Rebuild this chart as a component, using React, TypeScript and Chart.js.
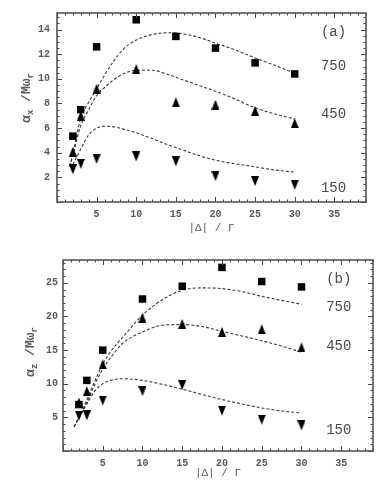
import React, { useEffect, useRef } from 'react';
import { Chart, registerables } from 'chart.js';

Chart.register(...registerables);

// ---------- data ----------
const detuning = [2, 3, 5, 10, 15, 20, 25, 30];

// panel (a): alpha_x / M omega_r
const aSquares750 = [5.35, 7.5, 12.6, 14.8, 13.45, 12.5, 11.3, 10.4];
const aTriUp450 = [4.1, 7.0, 9.2, 10.8, 8.1, 7.9, 7.4, 6.4];
const aTriDown150 = [2.65, 3.1, 3.5, 3.7, 3.3, 2.1, 1.7, 1.4];

const aCurveX = [1.6, 2, 3, 4, 5, 6, 7, 8.5, 10, 12, 14, 16, 18, 20, 22.5, 25, 27.5, 30];
const aCurve750 = [2.9, 3.9, 6.8, 8.1, 9.2, 10.3, 11.3, 12.5, 13.15, 13.6, 13.75, 13.65, 13.35, 12.9, 12.35, 11.7, 11.1, 10.45];
const aCurve450 = [2.9, 3.8, 6.2, 7.5, 8.65, 9.3, 9.85, 10.45, 10.7, 10.7, 10.35, 9.9, 9.45, 9.0, 8.35, 7.65, 7.15, 6.75];
const aCurve150X = [1.8, 2, 3, 4, 5, 6, 7, 8.5, 10, 12, 14, 16, 18, 20, 22.5, 25, 27.5, 30];
const aCurve150 = [2.65, 3.0, 4.3, 5.45, 6.0, 6.15, 6.12, 5.9, 5.62, 5.15, 4.65, 4.2, 3.75, 3.4, 3.1, 2.85, 2.6, 2.43];

// panel (b): alpha_z / M omega_r
const bSquares750 = [6.9, 10.5, 15.0, 22.6, 24.5, 27.3, 25.2, 24.4];
const bTriUp450 = [7.2, 8.9, 12.9, 19.8, 18.9, 17.7, 18.1, 15.4];
const bTriDown150 = [5.25, 5.3, 7.5, 8.9, 9.8, 6.0, 4.65, 3.8];

const bCurveX = [1.4, 2, 3, 4, 5, 6, 7.5, 10, 12.5, 15, 17.5, 20, 22.5, 25, 27.5, 30];
const bCurve750 = [3.6, 5.0, 7.6, 10.4, 12.9, 14.8, 16.9, 20.2, 22.5, 23.9, 24.25, 24.15, 23.7, 23.0, 22.4, 21.8];
const bCurve450 = [3.6, 5.0, 7.2, 9.9, 12.2, 13.9, 16.0, 17.7, 18.7, 18.8, 18.5, 17.8, 17.1, 16.4, 15.6, 14.7];
const bCurve150 = [3.6, 4.9, 7.0, 8.9, 10.0, 10.5, 10.75, 10.5, 9.9, 9.2, 8.4, 7.65, 7.0, 6.4, 5.95, 5.65];

const seriesLabels = ['750', '450', '150'];
const xTitle = '|Δ| / Γ';

// ---------- helpers ----------
const FONT = "'Liberation Mono', 'DejaVu Sans Mono', monospace";
const TEXT = '#4a4a4a';
const TICK = '#5a5a5a';

const pts = (xs: number[], ys: number[]) => xs.map((x, i) => ({ x, y: ys[i] }));

function makeTriangle(up: boolean): HTMLCanvasElement {
  const c = document.createElement('canvas');
  const w = 8;
  const h = 10;
  c.width = w;
  c.height = h;
  const ctx = c.getContext('2d')!;
  ctx.fillStyle = '#000';
  ctx.beginPath();
  if (up) {
    ctx.moveTo(w / 2, 0);
    ctx.lineTo(w, h);
    ctx.lineTo(0, h);
  } else {
    ctx.moveTo(0, 0);
    ctx.lineTo(w, 0);
    ctx.lineTo(w / 2, h);
  }
  ctx.closePath();
  ctx.fill();
  return c;
}

const framePlugin = {
  id: 'mmaFrame',
  afterDraw(chart: any, _args: any, opts: any) {
    const { ctx, chartArea: a, scales } = chart;
    const xs = scales.x;
    const ys = scales.y;
    ctx.save();
    // ticks
    ctx.strokeStyle = '#444';
    ctx.lineWidth = 1;
    const near = (v: number, m: number) => Math.abs(v / m - Math.round(v / m)) < 1e-6;
    for (let i = 0; i * opts.xMinor <= xs.max + 1e-9; i++) {
      const v = i * opts.xMinor;
      const px = Math.round(xs.getPixelForValue(v)) + 0.5;
      const len = near(v, opts.xMajor) ? 5 : 2.5;
      ctx.beginPath();
      ctx.moveTo(px, a.bottom);
      ctx.lineTo(px, a.bottom - len);
      ctx.moveTo(px, a.top);
      ctx.lineTo(px, a.top + len);
      ctx.stroke();
    }
    for (let i = 0; i * opts.yMinor <= ys.max + 1e-9; i++) {
      const v = i * opts.yMinor;
      const py = Math.round(ys.getPixelForValue(v)) + 0.5;
      const len = near(v, opts.yMajor) ? 5 : 2.5;
      ctx.beginPath();
      ctx.moveTo(a.left, py);
      ctx.lineTo(a.left + len, py);
      ctx.moveTo(a.right, py);
      ctx.lineTo(a.right - len, py);
      ctx.stroke();
    }
    // frame
    ctx.strokeStyle = '#555';
    ctx.lineWidth = 1.6;
    ctx.strokeRect(a.left, a.top, a.right - a.left, a.bottom - a.top);

    // in-plot labels
    ctx.fillStyle = TEXT;
    ctx.font = `14px ${FONT}`;
    ctx.textAlign = 'center';
    ctx.textBaseline = 'middle';
    for (const lab of opts.labels) {
      ctx.fillText(lab.text, xs.getPixelForValue(lab.x), ys.getPixelForValue(lab.y));
    }

    // x title
    ctx.fillStyle = TICK;
    ctx.font = `11px ${FONT}`;
    ctx.fillText(opts.xTitle, (a.left + a.right) / 2, a.bottom + opts.xTitleOffset);

    // y title with subscripts (rotated)
    const parts: { t: string; sub: boolean }[] = opts.yTitle;
    const bigF = `bold 13px ${FONT}`;
    const subF = `bold 9px ${FONT}`;
    let total = 0;
    for (const p of parts) {
      ctx.font = p.sub ? subF : bigF;
      total += ctx.measureText(p.t).width;
    }
    ctx.translate(a.left - opts.yTitleOffset, opts.yTitleCenter);
    ctx.rotate(-Math.PI / 2);
    ctx.textAlign = 'left';
    ctx.textBaseline = 'alphabetic';
    ctx.fillStyle = '#5c5c5c';
    let cx = -total / 2;
    for (const p of parts) {
      ctx.font = p.sub ? subF : bigF;
      ctx.fillText(p.t, cx, p.sub ? 7 : 4);
      cx += ctx.measureText(p.t).width;
    }
    ctx.restore();
  },
};

interface PanelCfg {
  width: number;
  height: number;
  squares: number[];
  triUp: number[];
  triDown: number[];
  curves: { x: number[]; y: number[] }[];
  yMax: number;
  yStep: number;
  yMinor: number;
  yAxisWidth: number;
  xAxisHeight: number;
  padTop: number;
  padRight: number;
  yTickPad: number;
  labels: { text: string; x: number; y: number }[];
  ySub: string;
  yTitleCenter: number;
  yTitleOffset: number;
  xTitleOffset: number;
}

function Panel({ cfg }: { cfg: PanelCfg }) {
  const ref = useRef<HTMLCanvasElement>(null);
  useEffect(() => {
    if (!ref.current) return;
    const triUp = makeTriangle(true);
    const triDown = makeTriangle(false);
    const curveStyle = {
      showLine: true,
      pointRadius: 0,
      borderColor: '#3a3a3a',
      borderWidth: 1.1,
      borderDash: [3, 2],
      tension: 0.4,
      cubicInterpolationMode: 'monotone' as const,
      fill: false,
    };
    const chart = new Chart(ref.current, {
      type: 'scatter',
      data: {
        datasets: [
          {
            label: seriesLabels[0],
            data: pts(detuning, cfg.squares),
            pointStyle: 'rect',
            pointRadius: 5.3,
            backgroundColor: '#000',
            borderWidth: 0,
            showLine: false,
          },
          {
            label: seriesLabels[1],
            data: pts(detuning, cfg.triUp),
            pointStyle: triUp as any,
            pointRadius: 5,
            backgroundColor: '#000',
            borderWidth: 0,
            showLine: false,
          },
          {
            label: seriesLabels[2],
            data: pts(detuning, cfg.triDown),
            pointStyle: triDown as any,
            pointRadius: 5,
            backgroundColor: '#000',
            borderWidth: 0,
            showLine: false,
          },
          ...cfg.curves.map((c, i) => ({
            label: 'fit ' + seriesLabels[i],
            data: pts(c.x, c.y),
            ...curveStyle,
          })),
        ],
      },
      options: {
        animation: false,
        responsive: false,
        maintainAspectRatio: false,
        events: [],
        layout: { padding: { left: 0, right: cfg.padRight, top: cfg.padTop, bottom: 0 } },
        plugins: {
          legend: { display: false },
          tooltip: { enabled: false },
          mmaFrame: {
            xMinor: 1,
            xMajor: 5,
            yMinor: cfg.yMinor,
            yMajor: cfg.yStep,
            labels: cfg.labels,
            xTitle,
            xTitleOffset: cfg.xTitleOffset,
            yTitle: [
              { t: 'α', sub: false },
              { t: cfg.ySub, sub: true },
              { t: ' /', sub: false },
              { t: 'Mω', sub: false },
              { t: 'r', sub: true },
            ],
            yTitleCenter: cfg.yTitleCenter,
            yTitleOffset: cfg.yTitleOffset,
          },
        } as any,
        scales: {
          x: {
            type: 'linear',
            min: 0,
            max: 39,
            grid: { display: false, drawTicks: false },
            border: { display: false },
            afterFit: (s: any) => {
              s.height = cfg.xAxisHeight;
            },
            ticks: {
              stepSize: 5,
              autoSkip: false,
              maxRotation: 0,
              padding: 6,
              color: TICK,
              font: { family: FONT, size: 10, weight: 'bold' },
              callback: (v: any) => (v > 0 && v % 5 === 0 ? String(v) : ''),
            },
          },
          y: {
            type: 'linear',
            min: 0,
            max: cfg.yMax,
            grid: { display: false, drawTicks: false },
            border: { display: false },
            afterFit: (s: any) => {
              s.width = cfg.yAxisWidth;
            },
            ticks: {
              stepSize: cfg.yStep,
              autoSkip: false,
              padding: cfg.yTickPad,
              color: TICK,
              font: { family: FONT, size: 10, weight: 'bold' },
              callback: (v: any) => (v > 0 && Math.abs(v % cfg.yStep) < 1e-9 ? String(v) : ''),
            },
          },
        },
      },
      plugins: [framePlugin],
    });
    return () => chart.destroy();
  }, [cfg]);
  return (
    <canvas
      ref={ref}
      width={cfg.width}
      height={cfg.height}
      style={{ display: 'block', width: cfg.width, height: cfg.height }}
    />
  );
}

const panelA: PanelCfg = {
  width: 383,
  height: 240,
  squares: aSquares750,
  triUp: aTriUp450,
  triDown: aTriDown150,
  curves: [
    { x: aCurveX, y: aCurve750 },
    { x: aCurveX, y: aCurve450 },
    { x: aCurve150X, y: aCurve150 },
  ],
  yMax: 15.35,
  yStep: 2,
  yMinor: 0.5,
  yAxisWidth: 57,
  xAxisHeight: 38,
  padTop: 13,
  padRight: 17,
  yTickPad: 7,
  labels: [
    { text: '(a)', x: 34.9, y: 13.8 },
    { text: seriesLabels[0], x: 34.9, y: 11.0 },
    { text: seriesLabels[1], x: 34.9, y: 7.1 },
    { text: seriesLabels[2], x: 34.9, y: 1.1 },
  ],
  ySub: 'x',
  yTitleCenter: 98,
  yTitleOffset: 31,
  xTitleOffset: 26,
};

const panelB: PanelCfg = {
  width: 383,
  height: 258,
  squares: bSquares750,
  triUp: bTriUp450,
  triDown: bTriDown150,
  curves: [
    { x: bCurveX, y: bCurve750 },
    { x: bCurveX, y: bCurve450 },
    { x: bCurveX, y: bCurve150 },
  ],
  yMax: 28.4,
  yStep: 5,
  yMinor: 1,
  yAxisWidth: 63,
  xAxisHeight: 47,
  padTop: 20,
  padRight: 10,
  yTickPad: 5,
  labels: [
    { text: '(b)', x: 34.7, y: 25.6 },
    { text: seriesLabels[0], x: 34.7, y: 21.4 },
    { text: seriesLabels[1], x: 34.7, y: 15.5 },
    { text: seriesLabels[2], x: 34.7, y: 3.1 },
  ],
  ySub: 'z',
  yTitleCenter: 112,
  yTitleOffset: 33,
  xTitleOffset: 22,
};

export default function App() {
  return (
    <div
      style={{
        position: 'fixed',
        left: 0,
        top: 0,
        width: 383,
        height: 498,
        background: '#fff',
        overflow: 'hidden',
      }}
    >
      <Panel cfg={panelA} />
      <Panel cfg={panelB} />
    </div>
  );
}
